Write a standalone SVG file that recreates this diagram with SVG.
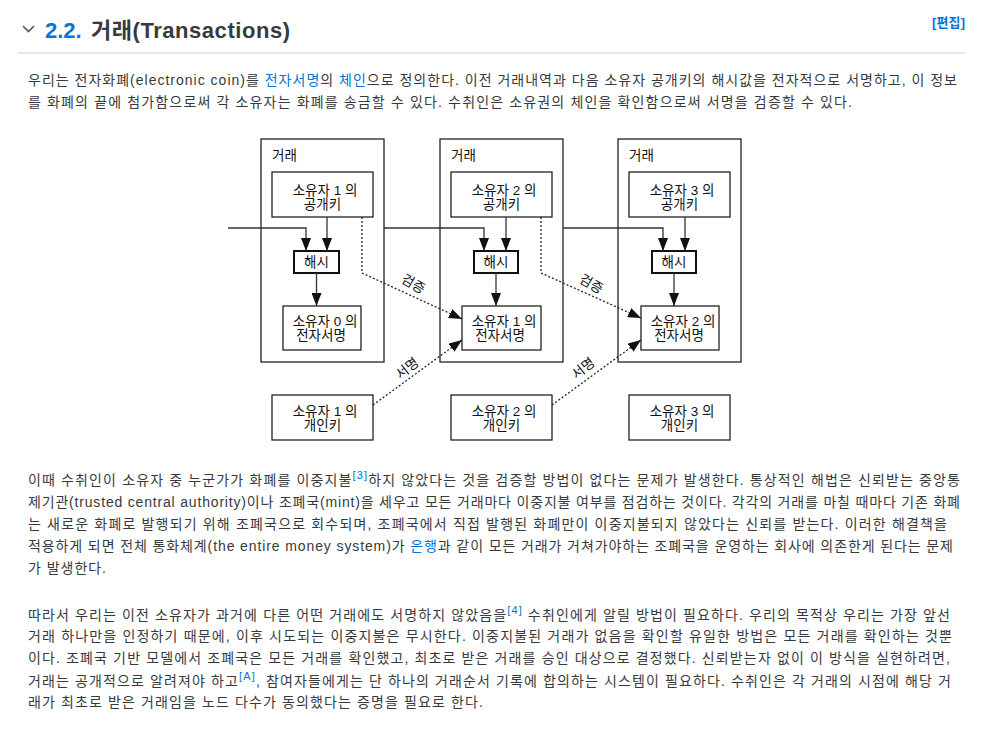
<svg xmlns="http://www.w3.org/2000/svg" width="981" height="729" viewBox="0 0 981 729">
<defs>
<style>
.body{font-family:"Liberation Sans","Noto Sans CJK KR",sans-serif;font-size:14px;fill:#373a3c}
.lk{fill:#0275d8}
.sup{font-size:11px;fill:#0275d8}
.dg{font-family:"Liberation Sans","Noto Sans CJK KR",sans-serif;font-size:13.5px;fill:#111}
.box{fill:#fff;stroke:#222;stroke-width:1.3}
.tx{fill:none;stroke:#222;stroke-width:1.3}
.hash{fill:#fff;stroke:#111;stroke-width:2}
.ln{fill:none;stroke:#333;stroke-width:1.3}
.dot{fill:none;stroke:#222;stroke-width:1.3;stroke-dasharray:2 2}
</style>
<marker id="ah" markerUnits="userSpaceOnUse" markerWidth="13" markerHeight="10" refX="13" refY="5" orient="auto" viewBox="0 0 13 10">
<path d="M0,0 L13,5 L0,10 z" fill="#111"/>
</marker>
</defs>
<rect width="981" height="729" fill="#fff"/>

<g id="heading">
<path d="M23,26 L28.5,31.5 L34,26" fill="none" stroke="#555" stroke-width="1.6"/>
<text x="45" y="38" font-family="Liberation Sans,sans-serif" font-weight="bold" font-size="22" fill="#0275d8">2.2.</text>
<text x="91" y="38" font-family="Liberation Sans,Noto Sans CJK KR,sans-serif" font-weight="bold" font-size="22" fill="#373a3c" textLength="199">거래(Transactions)</text>
<text x="932" y="27" font-family="Liberation Sans,Noto Sans CJK KR,sans-serif" font-weight="bold" font-size="13" fill="#0275d8" textLength="33">[편집]</text>
<line x1="18" y1="53" x2="965" y2="53" stroke="#ccc" stroke-width="1.2"/>
</g>

<g id="para1" class="body">
<text x="28" y="85" textLength="929" lengthAdjust="spacing">우리는 전자화폐(electronic coin)를 <tspan class="lk">전자서명</tspan>의 <tspan class="lk">체인</tspan>으로 정의한다. 이전 거래내역과 다음 소유자 공개키의 해시값을 전자적으로 서명하고, 이 정보</text>
<text x="28" y="107" textLength="824" lengthAdjust="spacing">를 화폐의 끝에 첨가함으로써 각 소유자는 화폐를 송금할 수 있다. 수취인은 소유권의 체인을 확인함으로써 서명을 검증할 수 있다.</text>
</g>

<g id="tx1">
<rect class="tx" x="261" y="139" width="123" height="223"/>
<text class="dg" x="272" y="160">거래</text>
</g>
<g id="tx2">
<rect class="tx" x="440" y="139" width="123" height="223"/>
<text class="dg" x="451" y="160">거래</text>
</g>
<g id="tx3">
<rect class="tx" x="618" y="139" width="123" height="223"/>
<text class="dg" x="629" y="160">거래</text>
</g>

<g id="pub1"><rect class="box" x="272" y="172" width="101" height="45"/>
<text class="dg" x="325" y="194.5" text-anchor="middle">소유자 1 의</text><text class="dg" x="322.5" y="208.5" text-anchor="middle">공개키</text></g>
<g id="pub2"><rect class="box" x="451" y="172" width="101" height="45"/>
<text class="dg" x="504" y="194.5" text-anchor="middle">소유자 2 의</text><text class="dg" x="501.5" y="208.5" text-anchor="middle">공개키</text></g>
<g id="pub3"><rect class="box" x="629" y="172" width="101" height="45"/>
<text class="dg" x="682" y="194.5" text-anchor="middle">소유자 3 의</text><text class="dg" x="679.5" y="208.5" text-anchor="middle">공개키</text></g>

<g id="hash1"><rect class="hash" x="294" y="251" width="45" height="22"/>
<text class="dg" x="316.5" y="267" text-anchor="middle">해시</text></g>
<g id="hash2"><rect class="hash" x="474" y="251" width="44" height="22"/>
<text class="dg" x="496" y="267" text-anchor="middle">해시</text></g>
<g id="hash3"><rect class="hash" x="652" y="251" width="44" height="22"/>
<text class="dg" x="674" y="267" text-anchor="middle">해시</text></g>

<g id="sig0"><rect class="box" x="283" y="306" width="78" height="44"/>
<text class="dg" x="325" y="326" text-anchor="middle">소유자 0 의</text><text class="dg" x="321" y="340" text-anchor="middle">전자서명</text></g>
<g id="sig1"><rect class="box" x="462" y="306" width="79" height="44"/>
<text class="dg" x="504" y="326" text-anchor="middle">소유자 1 의</text><text class="dg" x="500" y="340" text-anchor="middle">전자서명</text></g>
<g id="sig2"><rect class="box" x="641" y="306" width="78" height="44"/>
<text class="dg" x="683" y="326" text-anchor="middle">소유자 2 의</text><text class="dg" x="679" y="340" text-anchor="middle">전자서명</text></g>

<g id="priv1"><rect class="box" x="272" y="395" width="101" height="45"/>
<text class="dg" x="325" y="416" text-anchor="middle">소유자 1 의</text><text class="dg" x="322.5" y="430" text-anchor="middle">개인키</text></g>
<g id="priv2"><rect class="box" x="451" y="395" width="101" height="45"/>
<text class="dg" x="504" y="416" text-anchor="middle">소유자 2 의</text><text class="dg" x="501.5" y="430" text-anchor="middle">개인키</text></g>
<g id="priv3"><rect class="box" x="629" y="395" width="101" height="45"/>
<text class="dg" x="682" y="416" text-anchor="middle">소유자 3 의</text><text class="dg" x="679.5" y="430" text-anchor="middle">개인키</text></g>

<g id="connectors">
<path class="ln" d="M228,228 H306 V251" marker-end="url(#ah)"/>
<path class="ln" d="M327,217 V251" marker-end="url(#ah)"/>
<path class="ln" d="M316.5,273 V306" marker-end="url(#ah)"/>
<path class="ln" d="M384,228 H484 V251" marker-end="url(#ah)"/>
<path class="ln" d="M506,217 V251" marker-end="url(#ah)"/>
<path class="ln" d="M496,273 V306" marker-end="url(#ah)"/>
<path class="ln" d="M563,228 H663 V251" marker-end="url(#ah)"/>
<path class="ln" d="M685,217 V251" marker-end="url(#ah)"/>
<path class="ln" d="M674,273 V306" marker-end="url(#ah)"/>
<path class="dot" d="M362,217 V273 L462,319" marker-end="url(#ah)"/>
<path class="dot" d="M541,217 V273 L641,318" marker-end="url(#ah)"/>
<path class="dot" d="M373,405 L462,340" marker-end="url(#ah)"/>
<path class="dot" d="M552,405 L641,340" marker-end="url(#ah)"/>
<text class="dg" x="0" y="0" text-anchor="middle" transform="translate(411,288) rotate(30)">검증</text>
<text class="dg" x="0" y="0" text-anchor="middle" transform="translate(589,288) rotate(30)">검증</text>
<text class="dg" x="0" y="0" text-anchor="middle" transform="translate(410,372) rotate(-38)">서명</text>
<text class="dg" x="0" y="0" text-anchor="middle" transform="translate(586,372) rotate(-38)">서명</text>
</g>

<g id="para2" class="body">
<text x="28" y="485" textLength="932" lengthAdjust="spacing">이때 수취인이 소유자 중 누군가가 화폐를 이중지불<tspan class="sup" dy="-6">[3]</tspan><tspan dy="6">하지 않았다는 것을 검증할 방법이 없다는 문제가 발생한다. 통상적인 해법은 신뢰받는 중앙통</tspan></text>
<text x="28" y="507" textLength="932" lengthAdjust="spacing">제기관(trusted central authority)이나 조폐국(mint)을 세우고 모든 거래마다 이중지불 여부를 점검하는 것이다. 각각의 거래를 마칠 때마다 기존 화폐</text>
<text x="28" y="529" textLength="919" lengthAdjust="spacing">는 새로운 화폐로 발행되기 위해 조폐국으로 회수되며, 조폐국에서 직접 발행된 화폐만이 이중지불되지 않았다는 신뢰를 받는다. 이러한 해결책을</text>
<text x="28" y="551" textLength="925" lengthAdjust="spacing">적용하게 되면 전체 통화체계(the entire money system)가 <tspan class="lk">은행</tspan>과 같이 모든 거래가 거쳐가야하는 조폐국을 운영하는 회사에 의존한게 된다는 문제</text>
<text x="28" y="573" textLength="78" lengthAdjust="spacing">가 발생한다.</text>
</g>

<g id="para3" class="body">
<text x="28" y="620" textLength="922" lengthAdjust="spacing">따라서 우리는 이전 소유자가 과거에 다른 어떤 거래에도 서명하지 않았음을<tspan class="sup" dy="-6">[4]</tspan><tspan dy="6"> 수취인에게 알릴 방법이 필요하다. 우리의 목적상 우리는 가장 앞선</tspan></text>
<text x="28" y="641" textLength="924" lengthAdjust="spacing">거래 하나만을 인정하기 때문에, 이후 시도되는 이중지불은 무시한다. 이중지불된 거래가 없음을 확인할 유일한 방법은 모든 거래를 확인하는 것뿐</text>
<text x="28" y="663" textLength="922" lengthAdjust="spacing">이다. 조폐국 기반 모델에서 조폐국은 모든 거래를 확인했고, 최초로 받은 거래를 승인 대상으로 결정했다. 신뢰받는자 없이 이 방식을 실현하려면,</text>
<text x="28" y="686" textLength="923" lengthAdjust="spacing">거래는 공개적으로 알려져야 하고<tspan class="sup" dy="-6">[A]</tspan><tspan dy="6">, 참여자들에게는 단 하나의 거래순서 기록에 합의하는 시스템이 필요하다. 수취인은 각 거래의 시점에 해당 거</tspan></text>
<text x="28" y="707" textLength="455" lengthAdjust="spacing">래가 최초로 받은 거래임을 노드 다수가 동의했다는 증명을 필요로 한다.</text>
</g>
</svg>
